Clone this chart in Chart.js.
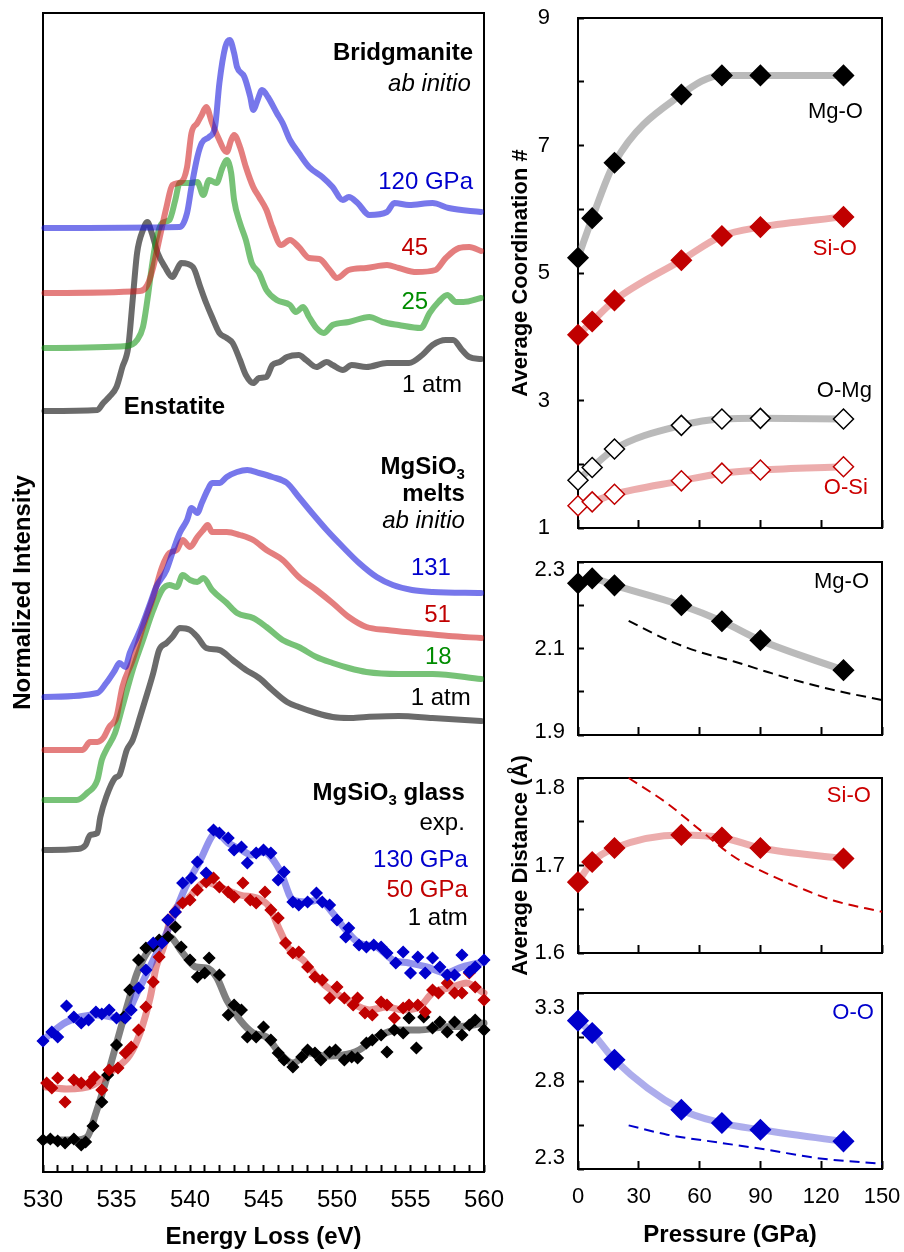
<!DOCTYPE html>
<html>
<head>
<meta charset="utf-8">
<script src="https://cdn.jsdelivr.net/npm/chart.js@4.4.1/dist/chart.umd.min.js"></script>
<style>
  html, body { margin: 0; padding: 0; background: #fff; }
  #fig { position: relative; width: 904px; height: 1252px; }
  #fig canvas { position: absolute; left: 0; top: 0; }
</style>
</head>
<body>
<div id="fig">
  <canvas id="spectra" width="904" height="1252"></canvas>
  <canvas id="coord" width="904" height="1252"></canvas>
  <canvas id="distMgO" width="904" height="1252"></canvas>
  <canvas id="distSiO" width="904" height="1252"></canvas>
  <canvas id="distOO" width="904" height="1252"></canvas>
</div>
<script>
// ---- spectra: [energy loss (eV), stacked intensity] ----
const bridg120 = [[530.1,94.4],[539.3,94.5],[539.8,95.9],[540.1,98.5],[540.5,101.5],[540.8,102.9],[541.3,103.5],[541.7,104.5],[542.0,108.9],[542.4,112.5],[542.7,113.2],[543.0,111.9],[543.2,110.5],[543.7,109.5],[544.1,107.5],[544.3,106.2],[544.6,107.2],[544.9,108.2],[545.3,107.5],[545.9,105.9],[546.3,104.9],[546.8,103.2],[547.4,101.9],[548.1,100.5],[549.0,99.5],[549.7,98.5],[550.4,97.2],[550.8,97.5],[551.4,96.9],[552.2,95.7],[553.4,96.0],[553.9,96.9],[554.9,96.7],[556.5,96.9],[557.6,96.4],[559.8,96.0]];
const bridg45 = [[530.1,87.9],[536.6,88.1],[537.1,88.7],[537.5,90.5],[537.9,93.2],[538.4,96.5],[538.8,98.7],[539.4,99.0],[539.8,100.5],[540.1,103.9],[540.5,104.9],[540.8,105.7],[541.1,106.5],[541.5,104.9],[541.9,103.5],[542.5,102.0],[542.8,103.2],[543.0,103.7],[543.4,102.5],[543.8,100.5],[544.3,98.5],[544.7,97.5],[545.2,96.2],[545.6,94.5],[546.2,92.7],[546.8,93.2],[547.4,92.5],[548.1,91.4],[548.8,91.3],[549.5,90.2],[550.0,89.4],[550.8,90.2],[552.0,90.4],[553.4,90.7],[554.2,90.4],[555.4,90.0],[556.7,90.2],[557.4,91.4],[558.3,92.4],[559.0,92.5],[559.8,92.1]];
const bridg25 = [[530.1,82.4],[535.7,82.6],[536.4,83.2],[536.8,84.5],[537.1,87.2],[537.4,90.5],[537.7,93.2],[538.1,94.9],[538.6,95.2],[539.0,97.2],[539.3,98.9],[540.0,98.9],[540.5,99.0],[540.9,97.7],[541.3,99.2],[541.8,98.9],[542.2,100.4],[542.5,101.2],[542.8,99.9],[543.0,97.2],[543.4,94.9],[543.8,93.2],[544.2,90.9],[544.7,89.9],[545.2,88.2],[545.9,87.2],[546.8,86.7],[547.2,86.0],[547.7,86.5],[548.1,85.5],[548.6,84.4],[549.1,83.9],[549.7,84.7],[550.8,85.0],[552.2,85.5],[553.1,85.0],[554.2,84.7],[555.7,84.4],[556.3,85.9],[556.9,87.0],[557.5,87.7],[558.1,87.0],[558.6,87.0],[559.8,87.4]];
const enstatite = [[530.1,76.1],[533.7,76.2],[534.1,76.9],[534.5,77.5],[535.0,78.5],[535.4,80.5],[535.8,82.5],[536.1,87.2],[536.4,91.9],[536.8,94.2],[537.1,95.0],[537.4,93.9],[537.8,91.9],[538.3,90.5],[538.8,89.5],[539.1,90.2],[539.4,90.9],[540.2,90.5],[540.7,88.5],[541.1,86.9],[541.5,85.5],[542.0,83.9],[542.5,83.4],[542.9,82.9],[543.4,81.2],[543.8,79.7],[544.3,78.9],[544.7,79.4],[545.2,79.5],[545.6,80.7],[546.1,81.0],[546.6,81.5],[547.4,81.7],[547.9,81.2],[548.6,80.5],[549.3,81.0],[549.7,80.7],[550.4,80.2],[551.0,80.7],[552.0,80.5],[553.4,80.9],[554.9,80.9],[555.8,81.7],[556.5,82.7],[557.4,83.2],[557.9,83.2],[558.5,82.2],[559.0,81.5],[559.8,81.3]];
const melt131 = [[530.1,47.5],[533.7,47.9],[534.3,48.9],[534.9,50.2],[535.2,50.9],[535.6,50.5],[535.9,51.9],[536.4,53.5],[536.8,54.9],[537.3,56.9],[537.7,58.5],[538.4,60.2],[538.8,61.9],[539.3,63.9],[539.8,65.2],[540.1,66.4],[540.5,65.9],[540.8,66.9],[541.2,68.2],[541.5,68.9],[542.0,68.9],[542.5,69.5],[543.2,70.0],[543.9,70.2],[544.7,69.9],[545.6,69.5],[546.6,68.9],[547.4,67.5],[548.3,65.9],[549.3,64.2],[550.4,62.5],[551.5,60.9],[552.7,59.5],[553.8,58.7],[555.1,58.2],[556.5,58.0],[559.8,57.9]];
const melt51 = [[530.1,42.2],[532.7,42.2],[533.2,43.0],[533.7,43.0],[534.1,43.4],[534.5,44.5],[535.0,45.5],[535.4,48.5],[536.1,51.2],[536.8,54.5],[537.5,57.5],[538.1,60.5],[538.6,61.9],[539.1,62.2],[539.5,63.2],[540.0,62.5],[540.5,63.5],[540.9,64.2],[541.2,64.7],[541.5,64.0],[542.5,64.0],[543.4,63.7],[544.3,63.2],[545.2,62.2],[546.3,61.2],[547.4,59.5],[548.6,58.2],[549.7,56.9],[550.8,55.5],[552.0,54.5],[553.4,54.2],[555.4,53.9],[557.6,53.6],[559.8,53.4]];
const melt18 = [[530.1,37.2],[532.3,37.2],[533.0,37.9],[533.7,39.2],[534.0,41.2],[534.3,42.2],[534.9,43.9],[535.4,46.5],[536.1,50.2],[536.8,53.2],[537.5,56.2],[538.1,58.2],[538.6,58.7],[539.1,58.5],[539.5,59.7],[540.0,59.2],[540.5,59.0],[540.9,59.4],[541.5,58.2],[542.5,56.9],[543.2,55.9],[544.3,55.4],[545.2,54.5],[546.3,53.2],[547.4,52.5],[548.6,51.5],[549.7,50.9],[550.8,50.4],[552.0,50.0],[554.2,49.8],[556.5,49.8],[559.8,49.3]];
const melt1atm = [[530.1,32.2],[532.3,32.3],[532.9,32.7],[533.2,33.7],[533.7,33.9],[533.9,35.5],[534.3,37.5],[534.9,39.4],[535.2,39.7],[535.7,42.2],[536.1,43.2],[536.6,45.5],[537.1,47.9],[537.5,49.9],[537.9,52.2],[538.4,52.9],[538.8,53.5],[539.3,54.4],[540.0,54.2],[540.5,53.5],[541.1,52.4],[542.0,52.2],[542.9,51.2],[543.8,50.2],[544.7,49.4],[545.6,48.2],[546.6,47.0],[547.4,46.5],[548.6,45.9],[549.7,45.5],[550.8,45.4],[552.0,45.5],[554.2,45.6],[556.5,45.4],[559.8,45.1]];

// glass, experiment: measured points and smoothed curves
const glass130 = [[530.0,13.1],[530.6,14.0],[531.0,13.5],[531.6,16.6],[532.1,15.5],[532.6,14.9],[533.1,15.2],[533.6,16.0],[534.0,15.8],[534.5,16.2],[535.0,15.4],[535.6,15.4],[536.0,16.2],[536.5,18.4],[537.0,20.2],[537.5,22.9],[538.1,22.9],[538.5,25.2],[539.0,26.0],[539.5,28.9],[540.1,29.4],[540.5,31.0],[541.1,29.9],[541.6,34.2],[542.0,33.9],[542.6,33.4],[543.0,32.2],[543.5,32.5],[543.9,30.9],[544.5,31.9],[545.0,32.2],[545.5,31.9],[546.0,29.2],[546.4,30.0],[547.0,27.0],[547.4,26.7],[548.0,27.0],[548.6,27.9],[549.0,27.0],[549.5,26.7],[550.0,25.2],[550.6,23.5],[550.8,24.4],[551.5,22.7],[552.0,22.5],[552.5,22.7],[553.0,22.5],[553.4,21.9],[554.0,20.9],[554.5,22.0],[555.0,19.9],[555.5,21.5],[556.0,19.9],[556.5,21.4],[557.0,20.5],[557.5,19.7],[558.0,19.7],[558.5,21.7],[559.0,20.0],[559.4,20.5],[560.0,21.2]];
const glass50 = [[530.25,8.9],[530.6,8.4],[531.0,9.4],[531.5,7.0],[532.1,9.2],[532.6,8.9],[533.2,8.9],[533.5,9.5],[534.0,8.2],[534.5,10.2],[535.1,10.4],[535.6,11.9],[536.0,12.5],[536.5,14.2],[537.0,16.5],[537.5,19.0],[537.9,21.5],[538.5,25.2],[539.0,26.0],[539.5,26.9],[540.0,27.2],[540.5,28.2],[541.1,29.0],[541.6,29.4],[542.0,28.5],[542.6,28.0],[543.0,27.5],[543.6,28.9],[544.1,27.2],[544.5,26.9],[545.1,28.0],[545.5,26.2],[546.0,25.4],[546.5,22.9],[547.0,21.9],[547.4,22.0],[548.0,20.5],[548.5,19.5],[549.0,19.2],[549.5,17.4],[550.0,18.5],[550.5,17.4],[551.1,16.7],[551.4,17.4],[551.9,15.9],[552.4,15.7],[553.0,17.0],[553.4,16.7],[553.9,15.4],[554.5,16.4],[554.9,16.7],[555.5,16.7],[556.0,16.0],[556.5,18.2],[556.9,17.9],[557.5,18.9],[558.0,17.9],[558.5,17.9],[559.0,19.9],[559.4,18.5],[560.0,17.2]];
const glass1atm = [[530.0,3.2],[530.5,3.3],[531.0,3.1],[531.5,2.9],[532.1,3.3],[532.6,2.7],[532.9,3.0],[533.4,4.6],[534.0,7.0],[534.4,9.7],[535.0,12.7],[535.5,15.5],[535.9,18.2],[536.5,21.2],[537.0,22.4],[537.5,22.6],[537.9,23.2],[538.5,23.5],[539.0,24.5],[539.4,22.5],[540.0,21.2],[540.5,19.5],[541.0,19.9],[541.3,21.4],[542.0,19.7],[542.6,15.7],[543.0,16.7],[543.5,16.2],[543.9,13.5],[544.5,13.5],[545.0,14.5],[545.5,13.2],[546.0,11.9],[546.4,11.2],[547.0,10.5],[547.6,11.5],[548.0,12.2],[548.5,11.9],[548.9,11.2],[549.5,12.0],[549.9,12.2],[550.5,11.2],[551.0,11.5],[551.4,11.4],[552.0,12.9],[552.4,13.2],[553.0,13.7],[553.4,12.0],[553.9,14.2],[554.5,13.9],[554.9,15.4],[555.4,12.4],[555.9,15.5],[556.5,14.4],[557.0,15.0],[557.5,14.0],[558.0,15.0],[558.5,13.7],[559.0,14.7],[559.4,15.2],[560.0,14.2]];
const fit130 = [[530.0,13.2],[531.6,15.0],[533.6,15.7],[535.4,15.4],[536.5,18.2],[537.5,21.2],[538.5,24.2],[539.7,28.5],[540.6,30.9],[541.8,33.9],[542.6,32.9],[543.5,32.2],[544.2,31.7],[545.0,32.0],[546.1,30.2],[547.0,27.2],[547.9,27.0],[548.8,27.2],[549.7,25.9],[550.6,24.2],[551.5,22.9],[552.7,22.5],[553.8,21.2],[554.9,20.9],[556.1,20.5],[557.4,19.9],[558.5,20.5],[560.0,21.0]];
const fit50 = [[530.2,8.5],[531.6,8.3],[533.4,8.7],[534.6,10.0],[535.9,11.7],[536.6,13.9],[537.3,17.5],[537.7,20.5],[538.2,22.5],[538.7,25.5],[539.8,27.2],[541.1,29.0],[542.0,28.5],[543.4,27.7],[544.7,27.3],[545.4,26.5],[546.1,24.2],[546.8,22.2],[547.7,21.2],[549.0,18.9],[549.9,17.9],[551.0,16.9],[552.2,16.2],[553.4,16.5],[554.5,16.2],[555.6,16.5],[556.5,17.9],[557.9,18.5],[558.8,18.9],[560.0,17.9]];
const fit1atm = [[530.0,3.2],[532.2,3.2],[533.0,3.5],[533.6,5.9],[534.3,9.2],[535.2,13.9],[535.9,17.5],[536.4,19.9],[537.3,22.4],[538.2,23.2],[538.6,23.5],[539.5,21.9],[540.4,20.5],[541.1,20.4],[541.8,19.5],[542.5,17.2],[543.4,15.2],[544.3,13.9],[545.2,13.5],[546.1,11.9],[547.0,10.9],[548.1,11.9],[549.2,11.6],[550.4,11.7],[551.5,12.2],[552.7,13.5],[554.2,14.2],[555.6,14.2],[557.2,14.5],[558.8,14.6],[560.0,14.9]];
const energyLabels = [530, 535, 540, 545, 550, 555, 560];

// ---- melts ab initio vs pressure ----
const pressures = [0, 7, 18, 51, 71, 90, 131];
const cnMgO = [5.24, 5.86, 6.73, 7.80, 8.10, 8.10, 8.10];
const cnSiO = [4.03, 4.24, 4.57, 5.20, 5.58, 5.72, 5.88];
const cnOMg = [1.75, 1.95, 2.24, 2.61, 2.71, 2.72, 2.71];
const cnOSi = [1.35, 1.41, 1.53, 1.74, 1.86, 1.91, 1.96];
const dMgO = [2.251, 2.262, 2.246, 2.200, 2.163, 2.119, 2.050];
const dSiO = [1.681, 1.704, 1.720, 1.735, 1.732, 1.720, 1.708];
const dOO = [3.143, 3.073, 2.921, 2.637, 2.561, 2.523, 2.457];
// dashed reference curves: [pressure, distance]
const refMgO = [[25, 2.164], [44, 2.120], [60, 2.092], [77, 2.070], [94, 2.045], [110, 2.023], [130, 2.000], [150, 1.981]];
const refSiO = [[25, 1.800], [44, 1.771], [60, 1.741], [77, 1.710], [93, 1.691], [110, 1.674], [126, 1.660], [150, 1.647]];
const refOO = [[25, 2.548], [44, 2.495], [69, 2.451], [93, 2.410], [118, 2.362], [150, 2.330]];
const pressureLabels = [0, 30, 60, 90, 120, 150];
const cnLabels = [1, 3, 5, 7, 9];
const dMgOLabels = [1.9, 2.1, 2.3];
const dSiOLabels = [1.6, 1.7, 1.8];
const dOOLabels = [2.3, 2.8, 3.3];

const FONT = '"Liberation Sans", Arial, sans-serif';
Chart.defaults.font.family = FONT;
Chart.defaults.color = '#000';
Chart.defaults.animation = false;
Chart.defaults.responsive = false;
Chart.defaults.events = [];
Chart.defaults.plugins.legend.display = false;
Chart.defaults.plugins.tooltip.enabled = false;

const BLUE = '#0000CC', RED = '#C00000', GREEN = '#008C00';

// box around each plot area, under the markers
const framePlugin = {
  id: 'frame',
  beforeDatasetsDraw(chart) {
    const { ctx, chartArea: a } = chart;
    ctx.save();
    ctx.strokeStyle = '#000';
    ctx.lineWidth = 2;
    ctx.strokeRect(a.left, a.top, a.right - a.left, a.bottom - a.top);
    ctx.restore();
  }
};

// text labels placed in data coordinates; parts = [text, isSubscript]
const notesPlugin = {
  id: 'notes',
  afterDatasetsDraw(chart, args, opts) {
    const { ctx, scales } = chart;
    for (const n of opts.items || []) {
      const size = n.size || 24;
      const parts = n.parts || [[n.text]];
      const fontOf = sub => `${n.style || ''} ${sub ? Math.round(size * 0.62) : size}px ${FONT}`;
      ctx.save();
      ctx.fillStyle = n.color || '#000';
      ctx.textBaseline = 'middle';
      ctx.textAlign = 'left';
      let w = 0;
      for (const [t, sub] of parts) { ctx.font = fontOf(sub); w += ctx.measureText(t).width; }
      let px = scales.x.getPixelForValue(n.x);
      const py = scales.y.getPixelForValue(n.y);
      if (n.align !== 'left') px -= w;
      for (const [t, sub] of parts) {
        ctx.font = fontOf(sub);
        ctx.fillText(t, px, sub ? py + size * 0.32 : py);
        px += ctx.measureText(t).width;
      }
      ctx.restore();
    }
  }
};

// pull the end labels of an axis inwards, like the original
const nudgePlugin = {
  id: 'nudge',
  beforeDraw(chart, args, opts) {
    const map = opts.map || {};
    const s = chart.scales.y;
    s.getLabelItems().forEach(it => {
      if (!it._nudged && map[it.label] !== undefined) {
        it.options.translation[1] += map[it.label];
        it._nudged = true;
      }
    });
  }
};

const pts = arr => arr.map(([x, y]) => ({ x, y }));
const zip = (xs, ys) => xs.map((x, i) => ({ x, y: ys[i] }));

function curve(data, color, width, dash) {
  return {
    data, showLine: true, borderColor: color, borderWidth: width, pointRadius: 0,
    cubicInterpolationMode: 'monotone', borderDash: dash || [], borderJoinStyle: 'round',
    borderCapStyle: dash ? 'butt' : 'round', fill: false, clip: false
  };
}
function marks(data, color, r, fill) {
  return {
    data, showLine: false, pointStyle: 'rectRot', pointRadius: r,
    pointBackgroundColor: fill, pointBorderColor: color, pointBorderWidth: 1.5, clip: false
  };
}
const labelFor = (v, labels, digits) =>
  labels.some(l => Math.abs(l - v) < 1e-6) ? v.toFixed(digits) : '';
const tickGrid = len => ({ display: true, drawOnChartArea: false, drawTicks: true, tickLength: len, tickWidth: 2, tickColor: '#000' });
// fixed axis sizes; no extra room for end labels
const fixX = h => s => { s.height = h; s.paddingLeft = 0; s.paddingRight = 0; };
const fixY = w => s => { s.width = w; s.paddingTop = 0; s.paddingBottom = 0; };

// ---- left: O K-edge spectra ----
new Chart(document.getElementById('spectra'), {
  type: 'scatter',
  data: {
    datasets: [
      marks(pts(glass130), BLUE, 5.5, BLUE),
      marks(pts(glass50), RED, 5.5, RED),
      marks(pts(glass1atm), '#000', 5.5, '#000'),
      curve(pts(fit130), 'rgba(40,40,220,0.5)', 7),
      curve(pts(fit50), 'rgba(210,40,40,0.5)', 7),
      curve(pts(fit1atm), 'rgba(0,0,0,0.5)', 7),
      curve(pts(bridg120), 'rgba(20,20,220,0.58)', 6),
      curve(pts(bridg45), 'rgba(205,20,20,0.55)', 6),
      curve(pts(bridg25), 'rgba(20,150,20,0.58)', 6),
      curve(pts(enstatite), 'rgba(0,0,0,0.58)', 6),
      curve(pts(melt131), 'rgba(20,20,220,0.58)', 6),
      curve(pts(melt51), 'rgba(205,20,20,0.55)', 6),
      curve(pts(melt18), 'rgba(20,150,20,0.58)', 6),
      curve(pts(melt1atm), 'rgba(0,0,0,0.58)', 6)
    ]
  },
  options: {
    layout: { padding: { left: 0, top: 13, right: 420, bottom: 0 } },
    scales: {
      x: {
        type: 'linear', min: 530, max: 560,
        ticks: { stepSize: 1, autoSkip: false, maxRotation: 0, padding: 21, font: { size: 24 },
                 callback: v => labelFor(v, energyLabels, 0) },
        grid: tickGrid(-7), border: { display: false },
        title: { display: true, text: 'Energy Loss (eV)', font: { size: 24, weight: 'bold' }, padding: 0 },
        afterFit: fixX(80)
      },
      y: {
        min: 0, max: 115.9,
        ticks: { display: false }, grid: { display: false }, border: { display: false },
        title: { display: true, text: 'Normalized Intensity', font: { size: 24, weight: 'bold' }, padding: { top: 9, bottom: 0 } },
        afterFit: fixY(43)
      }
    },
    plugins: {
      notes: { items: [
        { text: 'Bridgmanite', x: 559.25, y: 111.9, style: 'bold' },
        { text: 'ab initio', x: 559.1, y: 108.8, style: 'italic' },
        { text: '120 GPa', x: 559.25, y: 99.0, color: BLUE },
        { text: '45', x: 556.2, y: 92.4, color: RED },
        { text: '25', x: 556.2, y: 87.0, color: GREEN },
        { text: '1 atm', x: 558.5, y: 78.7 },
        { text: 'Enstatite', x: 535.5, y: 76.5, style: 'bold', align: 'left' },
        { parts: [['MgSiO'], ['3', true]], x: 558.7, y: 70.5, style: 'bold' },
        { text: 'melts', x: 558.7, y: 67.8, style: 'bold' },
        { text: 'ab initio', x: 558.7, y: 65.1, style: 'italic' },
        { text: '131', x: 557.75, y: 60.4, color: BLUE },
        { text: '51', x: 557.75, y: 55.7, color: RED },
        { text: '18', x: 557.8, y: 51.5, color: GREEN },
        { text: '1 atm', x: 559.1, y: 47.4 },
        { parts: [['MgSiO'], ['3', true], [' glass']], x: 558.7, y: 37.9, style: 'bold' },
        { text: 'exp.', x: 558.7, y: 34.9 },
        { text: '130 GPa', x: 558.9, y: 31.2, color: BLUE },
        { text: '50 GPa', x: 558.9, y: 28.2, color: RED },
        { text: '1 atm', x: 558.9, y: 25.4 }
      ] }
    }
  },
  plugins: [framePlugin, notesPlugin]
});

// ---- right: structure of the melts vs pressure ----
function panel(id, o) {
  return new Chart(document.getElementById(id), {
    type: 'scatter',
    data: { datasets: o.datasets },
    options: {
      layout: { padding: { left: 500, right: 22, top: o.top, bottom: o.bottom } },
      scales: {
        x: {
          type: 'linear', min: 0, max: 150,
          ticks: { stepSize: 30, display: !!o.showX, padding: 23, maxRotation: 0, font: { size: 22 },
                   callback: v => labelFor(v, pressureLabels, 0) },
          grid: tickGrid(-8), border: { display: false },
          title: { display: !!o.showX, text: 'Pressure (GPa)', font: { size: 24, weight: 'bold' }, padding: { top: 0, bottom: 2 } },
          afterFit: fixX(o.xHeight)
        },
        y: {
          min: o.min, max: o.max,
          ticks: { stepSize: o.step, autoSkip: false, padding: o.labelPad, font: { size: 22 },
                   callback: v => labelFor(v, o.labels, o.digits) },
          grid: tickGrid(-6), border: { display: false },
          title: { display: !!o.title, text: o.title || '', font: { size: 22, weight: 'bold' }, padding: { top: 8, bottom: 0 } },
          afterFit: fixY(78)
        }
      },
      plugins: { notes: { items: o.notes }, nudge: { map: o.nudge || {} } }
    },
    plugins: [framePlugin, notesPlugin, nudgePlugin]
  });
}

const GRAY_LINE = 'rgba(140,140,140,0.6)';
const PINK_LINE = 'rgba(210,60,60,0.42)';
const BLUE_LINE = 'rgba(60,60,210,0.42)';

panel('coord', {
  top: 18, bottom: 724, xHeight: 0, min: 1, max: 9, step: 1, labels: cnLabels, digits: 0, labelPad: 34,
  title: 'Average Coordination #',
  datasets: [
    marks(zip(pressures, cnMgO), '#000', 10, '#000'),
    marks(zip(pressures, cnSiO), RED, 10, RED),
    marks(zip(pressures, cnOMg), '#000', 10, '#fff'),
    marks(zip(pressures, cnOSi), RED, 10, '#fff'),
    curve(zip(pressures, cnMgO), GRAY_LINE, 7),
    curve(zip(pressures, cnSiO), PINK_LINE, 7),
    curve(zip(pressures, cnOMg), GRAY_LINE, 7),
    curve(zip(pressures, cnOSi), PINK_LINE, 7)
  ],
  notes: [
    { text: 'Mg-O', x: 140.6, y: 7.52, size: 22 },
    { text: 'Si-O', x: 137.6, y: 5.38, size: 22, color: '#CC0000' },
    { text: 'O-Mg', x: 145.0, y: 3.15, size: 22 },
    { text: 'O-Si', x: 143.0, y: 1.63, size: 22, color: '#CC0000' }
  ]
});

panel('distMgO', {
  top: 562, bottom: 517, xHeight: 0, min: 1.9, max: 2.3, step: 0.1, labels: dMgOLabels, digits: 1, labelPad: 19,
  nudge: { '2.3': 8, '1.9': -3 },
  datasets: [
    marks(zip(pressures, dMgO), '#000', 10, '#000'),
    curve(zip(pressures, dMgO), GRAY_LINE, 7),
    curve(pts(refMgO), '#000', 2, [10, 6])
  ],
  notes: [{ text: 'Mg-O', x: 143.6, y: 2.254, size: 22 }]
});

panel('distSiO', {
  top: 778, bottom: 299, xHeight: 0, min: 1.6, max: 1.8, step: 0.05, labels: dSiOLabels, digits: 1, labelPad: 19,
  title: 'Average Distance (Å)',
  nudge: { '1.8': 10 },
  datasets: [
    marks(zip(pressures, dSiO), RED, 10, RED),
    curve(zip(pressures, dSiO), PINK_LINE, 7),
    curve(pts(refSiO), '#CC0000', 2, [10, 6])
  ],
  notes: [{ text: 'Si-O', x: 144.5, y: 1.779, size: 22, color: '#CC0000' }]
});

panel('distOO', {
  top: 993, bottom: 0, xHeight: 83, showX: true, min: 2.3, max: 3.3, step: 0.25, labels: dOOLabels, digits: 1, labelPad: 19,
  nudge: { '3.3': 15, '2.3': -11 },
  datasets: [
    marks(zip(pressures, dOO), BLUE, 10, BLUE),
    curve(zip(pressures, dOO), BLUE_LINE, 7),
    curve(pts(refOO), BLUE, 2, [10, 6])
  ],
  notes: [{ text: 'O-O', x: 146.0, y: 3.188, size: 22, color: BLUE }]
});
</script>
</body>
</html>
